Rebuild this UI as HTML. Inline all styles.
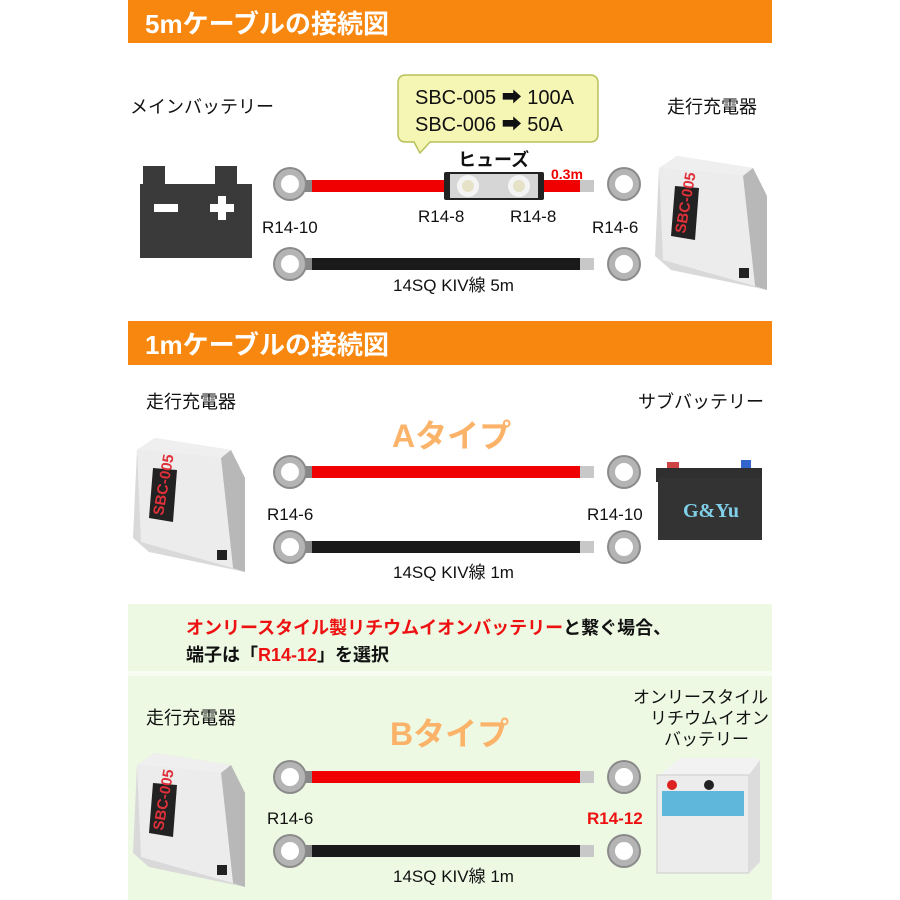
<!DOCTYPE html>
<html><head><meta charset="utf-8"><style>
html,body{margin:0;padding:0;background:#fff;}
svg{display:block;font-family:"Liberation Sans","Noto Sans CJK JP",sans-serif;}
</style></head><body>
<svg width="900" height="900" viewBox="0 0 900 900" xmlns="http://www.w3.org/2000/svg">
<defs>
<g id="ring">
  <circle cx="0" cy="0" r="17" fill="#8a8a8a"/>
  <circle cx="0" cy="0" r="15" fill="#b4b4b4"/>
  <circle cx="0" cy="0" r="9" fill="#fff"/>
</g>
<g id="chg">
  <polygon points="22,8 98,20 112,48 112,142 16,122 0,108 4,20" fill="#d9d9d9"/>
  <polygon points="4,20 22,8 98,20 88,28" fill="#efefef"/>
  <polygon points="88,28 98,20 112,48 112,142 100,138" fill="#b8b8b8"/>
  <polygon points="4,20 88,28 100,138 8,112" fill="#ececec"/>
  <polygon points="20,38 44,40 40,92 16,88" fill="#222"/>
  <text x="0" y="0" transform="translate(30,86) rotate(-80)" font-size="15" font-weight="bold" fill="#e0303a">SBC-005</text>
  <rect x="84" y="120" width="10" height="10" fill="#222"/>
</g>
</defs>

<!-- Section 1 header -->
<rect x="128" y="0" width="644" height="43" fill="#f7870f"/>
<text x="145" y="33" font-size="26" font-weight="bold" fill="#fff">5mケーブルの接続図</text>

<text x="130" y="113" font-size="18" fill="#111">メインバッテリー</text>
<text x="667" y="113" font-size="18" fill="#111">走行充電器</text>

<!-- battery -->
<rect x="143" y="166" width="22" height="18" fill="#3a3a3a"/>
<rect x="215" y="166" width="22" height="18" fill="#3a3a3a"/>
<rect x="140" y="184" width="112" height="74" fill="#3a3a3a"/>
<rect x="154" y="204" width="24" height="8" fill="#fff"/>
<rect x="210" y="204" width="24" height="8" fill="#fff"/>
<rect x="218" y="196" width="8" height="24" fill="#fff"/>

<!-- speech bubble -->
<path d="M406,75 H590 Q598,75 598,83 V134 Q598,142 590,142 H430 L420,153 L414,142 H406 Q398,142 398,134 V83 Q398,75 406,75 Z" fill="#f5f5b4" stroke="#b7c05a" stroke-width="1.5"/>
<text x="415" y="104" font-size="20" fill="#111">SBC-005 ➡ 100A</text>
<text x="415" y="131" font-size="20" fill="#111">SBC-006 ➡   50A</text>
<text x="458" y="166" font-size="18" font-weight="bold" fill="#111">ヒューズ</text>

<!-- red cable section1 -->
<rect x="300" y="180" width="12" height="12" fill="#888"/>
<rect x="312" y="180" width="134" height="12" fill="#f00000"/>
<rect x="540" y="180" width="40" height="12" fill="#f00000"/>
<rect x="580" y="180" width="14" height="12" fill="#c8c8c8"/>
<rect x="444" y="172" width="100" height="28" rx="2" fill="#222"/>
<rect x="450" y="174" width="88" height="24" fill="#d6d6d6"/>
<circle cx="468" cy="186" r="11" fill="#f4f4f4"/><circle cx="468" cy="186" r="6" fill="#e6e2c8"/>
<circle cx="519" cy="186" r="11" fill="#f4f4f4"/><circle cx="519" cy="186" r="6" fill="#e6e2c8"/>
<use href="#ring" x="290" y="184"/>
<use href="#ring" x="624" y="184"/>
<text x="551" y="179" font-size="14" font-weight="bold" fill="#f00000">0.3m</text>
<text x="262" y="233" font-size="17" fill="#111">R14-10</text>
<text x="418" y="222" font-size="17" fill="#111">R14-8</text>
<text x="510" y="222" font-size="17" fill="#111">R14-8</text>
<text x="592" y="233" font-size="17" fill="#111">R14-6</text>
<!-- black cable -->
<rect x="300" y="258" width="12" height="12" fill="#888"/>
<rect x="312" y="258" width="270" height="12" fill="#1a1a1a"/>
<rect x="580" y="258" width="14" height="12" fill="#c8c8c8"/>
<use href="#ring" x="290" y="264"/>
<use href="#ring" x="624" y="264"/>
<text x="393" y="291" font-size="17" fill="#111">14SQ KIV線 5m</text>
<use href="#chg" x="655" y="148"/>

<!-- Section 2 header -->
<rect x="128" y="321" width="644" height="44" fill="#f7870f"/>
<text x="145" y="354" font-size="26" font-weight="bold" fill="#fff">1mケーブルの接続図</text>
<text x="146" y="408" font-size="18" fill="#111">走行充電器</text>
<text x="638" y="408" font-size="18" fill="#111">サブバッテリー</text>
<text x="392" y="447" font-size="32" font-weight="bold" fill="#fbb36a">Aタイプ</text>
<use href="#chg" x="133" y="430"/>
<rect x="300" y="466" width="12" height="12" fill="#888"/>
<rect x="312" y="466" width="270" height="12" fill="#f00000"/>
<rect x="580" y="466" width="14" height="12" fill="#c8c8c8"/>
<use href="#ring" x="290" y="472"/>
<use href="#ring" x="624" y="472"/>
<text x="267" y="520" font-size="17" fill="#111">R14-6</text>
<text x="587" y="520" font-size="17" fill="#111">R14-10</text>
<rect x="300" y="541" width="12" height="12" fill="#888"/>
<rect x="312" y="541" width="270" height="12" fill="#1a1a1a"/>
<rect x="580" y="541" width="14" height="12" fill="#c8c8c8"/>
<use href="#ring" x="290" y="547"/>
<use href="#ring" x="624" y="547"/>
<text x="393" y="578" font-size="17" fill="#111">14SQ KIV線 1m</text>
<!-- G&Yu battery -->
<rect x="667" y="462" width="12" height="8" fill="#c44"/>
<rect x="741" y="460" width="10" height="10" fill="#36c"/>
<rect x="656" y="468" width="106" height="14" fill="#2f2f2f"/>
<rect x="658" y="478" width="104" height="62" fill="#333"/>
<text x="683" y="517" font-size="20" font-weight="bold" fill="#7fd0e8" font-family="Liberation Serif,serif">G&amp;Yu</text>

<!-- Section 3 green -->
<rect x="128" y="604" width="644" height="296" fill="#edf9e3"/>
<rect x="128" y="671" width="644" height="5" fill="#f7fdf3"/>
<text x="186" y="634" font-size="18" font-weight="bold" fill="#ee1111">オンリースタイル製リチウムイオンバッテリー<tspan fill="#111">と繋ぐ場合、</tspan></text>
<text x="186" y="661" font-size="18" font-weight="bold" fill="#111">端子は「<tspan fill="#ee1111">R14-12</tspan>」を選択</text>
<text x="146" y="724" font-size="18" fill="#111">走行充電器</text>
<text x="633" y="703" font-size="17" fill="#111">オンリースタイル</text>
<text x="650" y="724" font-size="17" fill="#111">リチウムイオン</text>
<text x="664" y="745" font-size="17" fill="#111">バッテリー</text>
<text x="390" y="745" font-size="32" font-weight="bold" fill="#fbb36a">Bタイプ</text>
<use href="#chg" x="133" y="745"/>
<rect x="300" y="771" width="12" height="12" fill="#888"/>
<rect x="312" y="771" width="270" height="12" fill="#f00000"/>
<rect x="580" y="771" width="14" height="12" fill="#c8c8c8"/>
<use href="#ring" x="290" y="777"/>
<use href="#ring" x="624" y="777"/>
<text x="267" y="824" font-size="17" fill="#111">R14-6</text>
<text x="587" y="824" font-size="17" font-weight="bold" fill="#ee1111">R14-12</text>
<rect x="300" y="845" width="12" height="12" fill="#888"/>
<rect x="312" y="845" width="270" height="12" fill="#1a1a1a"/>
<rect x="580" y="845" width="14" height="12" fill="#c8c8c8"/>
<use href="#ring" x="290" y="851"/>
<use href="#ring" x="624" y="851"/>
<text x="393" y="882" font-size="17" fill="#111">14SQ KIV線 1m</text>
<!-- lithium battery -->
<polygon points="660,775 680,758 758,758 760,775" fill="#f2f2f2"/>
<rect x="657" y="775" width="92" height="98" fill="#ececec" stroke="#ccc"/>
<polygon points="749,775 760,760 760,862 749,873" fill="#dcdcdc"/>
<rect x="662" y="791" width="82" height="25" fill="#5fb8dc"/>
<circle cx="672" cy="785" r="5" fill="#d22"/>
<circle cx="709" cy="785" r="5" fill="#222"/>
</svg>
</body></html>
